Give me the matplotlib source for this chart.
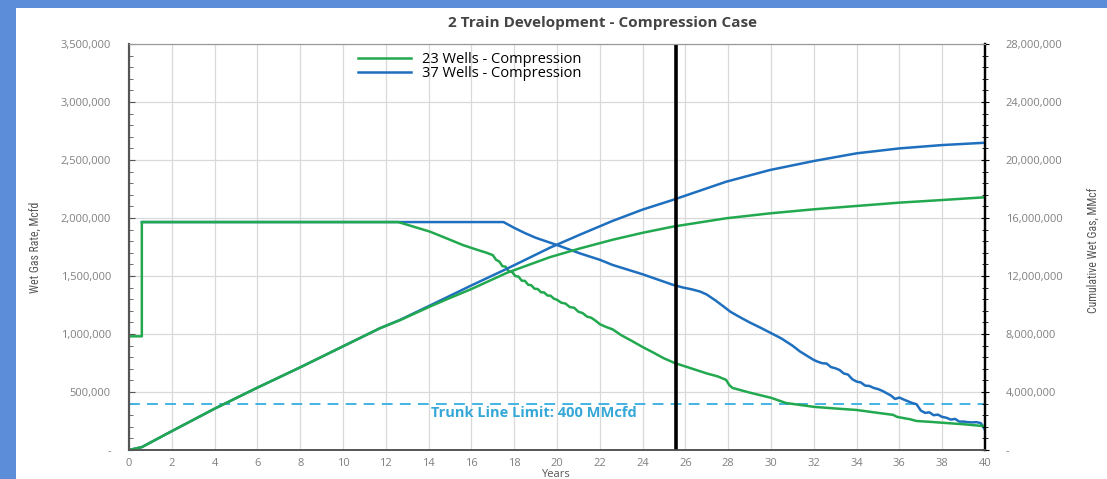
"""2 Train Development - Compression Case: rate + cumulative, 23 vs 37 wells."""
import matplotlib
matplotlib.use("Agg")
import matplotlib.pyplot as plt
from matplotlib.patches import Rectangle
from matplotlib.ticker import MultipleLocator, FuncFormatter

plt.rcParams['font.family'] = ['Open Sans', 'DejaVu Sans']

# ---- data (years, Mcfd / MMcf) ----
yrs_rate_23 = [0, 0.6, 0.6, 12.58, 13.3, 14.07, 14.9, 15.6, 16.2, 16.7, 17.0,
               17.15, 17.3, 17.45, 17.6, 17.75, 17.9, 18.05, 18.2, 18.35, 18.5,
               18.65, 18.8, 18.95, 19.1, 19.25, 19.4, 19.55, 19.7, 19.85, 20.0,
               20.2, 20.4, 20.6, 20.8, 21.0, 21.2, 21.4, 21.6, 21.8, 22.0,
               22.3, 22.6, 23.0, 23.5, 24.0, 24.5, 25.0, 25.5, 26.0, 26.5,
               27.0, 27.5, 27.9, 28.05, 28.2, 29.0, 30.0, 30.7, 31.5, 32.0,
               33.0, 34.0, 35.0, 35.7, 35.9, 36.5, 36.8, 37.5, 38.0, 39.0, 40.0]
rate_23 = [980, 980, 1965, 1965, 1925, 1882, 1820, 1767, 1730, 1701, 1680,
           1640, 1625, 1585, 1580, 1540, 1535, 1500, 1495, 1460, 1458,
           1425, 1420, 1390, 1388, 1360, 1358, 1332, 1330, 1305, 1295,
           1270, 1262, 1232, 1226, 1192, 1180, 1150, 1140, 1115, 1085,
           1060, 1040, 990, 940, 888, 840, 790, 750, 720, 690,
           660, 635, 605, 560, 535, 495, 450, 405, 385, 372,
           358, 345, 320, 303, 285, 265, 250, 242, 235, 222, 205]

yrs_rate_37 = [0.6, 17.5, 18.0, 18.5, 19.0, 20.0, 21.07, 22.0, 22.6, 23.3, 24.0,
               24.7, 25.4, 25.9, 26.3, 26.7, 27.0, 27.4, 27.8, 28.1, 28.5,
               29.0, 29.5, 30.0, 30.5, 31.0, 31.35, 31.7, 32.0,
               32.2, 32.4, 32.6, 32.8, 33.0, 33.2, 33.4, 33.6, 33.8, 34.0,
               34.2, 34.4, 34.6, 34.8, 35.0, 35.2, 35.4, 35.6, 35.8, 36.0,
               36.2, 36.4, 36.6, 36.8, 37.0, 37.2, 37.4, 37.6, 37.8, 38.0,
               38.2, 38.4, 38.6, 38.8, 39.0, 39.2, 39.4, 39.6, 39.8, 39.9, 40.0]
rate_37 = [1965, 1965, 1915, 1870, 1830, 1767, 1695, 1640, 1595, 1555, 1515,
           1470, 1425, 1400, 1385, 1365, 1340, 1290, 1235, 1192, 1150,
           1100, 1055, 1008, 960, 900, 850, 810, 776,
           760, 748, 745, 715, 705, 690, 660, 650, 610, 590,
           582, 555, 552, 535, 525, 510, 490, 470, 440, 452,
           435, 420, 405, 395, 340, 320, 325, 300, 305, 285,
           278, 262, 268, 245, 245, 240, 238, 240, 232, 205, 172]

yrs_cum_23 = [0, 0.6, 2, 4, 6, 8, 10, 11.73, 12.66, 14, 14.86, 16, 17.66,
              19.67, 21.07, 22.6, 24, 25.4, 27.9, 29.95, 32, 34, 36, 38, 40]
cum_23 = [0, 0.2, 1.3, 2.85, 4.3, 5.7, 7.15, 8.4, 8.95, 9.85, 10.4, 11.1, 12.22,
          13.3, 13.9, 14.5, 14.98, 15.4, 15.98, 16.32, 16.6, 16.83, 17.06, 17.24, 17.43]

yrs_cum_37 = [0, 0.6, 2, 4, 6, 8, 10, 11.73, 12.66, 14, 16, 17.66,
              19.67, 21.07, 22.6, 24, 25.4, 27.9, 29.95, 32, 34, 36, 38, 40]
cum_37 = [0, 0.2, 1.3, 2.85, 4.3, 5.7, 7.15, 8.4, 8.97, 9.92, 11.35, 12.5,
          13.95, 14.85, 15.8, 16.58, 17.24, 18.5, 19.31, 19.93, 20.46, 20.8, 21.03, 21.19]

trunk_limit = 400000
decision_year = 25.55

GREEN = '#22a94f'
BLUE = '#1f6fbf'
GRAY = '#808080'

fig = plt.figure(figsize=(11.07, 4.79), dpi=100)
fig.patch.set_facecolor('#5b8dd9')
fig.add_artist(Rectangle((16 / 1107, 0), 1, (479 - 8) / 479, transform=fig.transFigure,
                         facecolor='white', edgecolor='none', zorder=-10))

ax = fig.add_axes([129 / 1107, 29 / 479, (985 - 129) / 1107, (450 - 44) / 479])
ax2 = ax.twinx()

# rates (left axis)
ax.plot(yrs_rate_37, [v * 1000 for v in rate_37], color=BLUE, lw=1.8, zorder=3,
        label='37 Wells - Compression')
ax.plot(yrs_rate_23, [v * 1000 for v in rate_23], color=GREEN, lw=1.8, zorder=4,
        label='23 Wells - Compression')
ax.axhline(trunk_limit, color='#35aee0', lw=1.3, ls=(0, (6, 4)), zorder=2)
ax.text(18.9, trunk_limit - 22000, 'Trunk Line Limit: 400 MMcfd', color='#35a8d8',
        fontsize=10.5, fontweight='bold', ha='center', va='top')

# cumulative (right axis)
ax2.plot(yrs_cum_37, [v * 1e6 for v in cum_37], color=BLUE, lw=1.8)
ax2.plot(yrs_cum_23, [v * 1e6 for v in cum_23], color=GREEN, lw=1.8)
ax2.axvline(decision_year, color='black', lw=2.6)

ax.set_xlim(0, 40)
ax.set_ylim(0, 3500000)
ax2.set_ylim(0, 28000000)

ax.xaxis.set_major_locator(MultipleLocator(2))
ax.yaxis.set_major_locator(MultipleLocator(500000))
ax.yaxis.set_minor_locator(MultipleLocator(100000))
ax2.yaxis.set_major_locator(MultipleLocator(4000000))
ax2.yaxis.set_minor_locator(MultipleLocator(800000))

fmt = FuncFormatter(lambda v, p: '-' if v == 0 else f'{v:,.0f}')
ax.yaxis.set_major_formatter(fmt)
ax2.yaxis.set_major_formatter(fmt)

ax.grid(True, which='major', color='#d9d9d9', lw=0.9)
ax.set_axisbelow(True)

ax.tick_params(axis='x', length=0, labelsize=8, labelcolor=GRAY, pad=6)
ax.tick_params(axis='y', which='both', direction='in', color='#555555', labelsize=8,
               labelcolor=GRAY, pad=13)
ax.tick_params(axis='y', which='major', length=4)
ax.tick_params(axis='y', which='minor', length=3)
ax2.tick_params(axis='y', which='both', direction='inout', color='black', labelsize=8,
                labelcolor=GRAY, pad=12)
ax2.tick_params(axis='y', which='major', length=6)
ax2.tick_params(axis='y', which='minor', length=5)

for a in (ax, ax2):
    a.spines['top'].set_color('#999999')
    a.spines['left'].set_color('#555555')
    a.spines['bottom'].set_color('#555555')
    a.spines['right'].set_color('black')
    a.spines['left'].set_linewidth(1.5)
    a.spines['right'].set_linewidth(1.6)
    a.spines['bottom'].set_linewidth(1.2)

label_font = ['Roboto Condensed', 'DejaVu Sans']
fig.text(35 / 1107, 1 - 247 / 479, 'Wet Gas Rate, Mcfd', rotation=90, ha='center', va='center',
         fontsize=8.5, color='#555555', family=label_font, fontstretch='condensed')
fig.text(1093 / 1107, 1 - 250 / 479, 'Cumulative Wet Gas, MMcf', rotation=90, ha='center',
         va='center', fontsize=8.5, color='#555555', family=label_font, fontstretch='condensed')
fig.text(555 / 1107, 1 - 469 / 479, 'Years', ha='center', va='top', fontsize=8, color='#555555')

fig.text(602 / 1107, 1 - 23 / 479, '2 Train Development - Compression Case', ha='center',
         va='center', fontsize=11, fontweight='bold', color='#444444')

h, l = ax.get_legend_handles_labels()
ax2.legend(h[::-1], l[::-1], loc='upper left', bbox_to_anchor=(351 / 1107, 1 - 45 / 479),
           bbox_transform=fig.transFigure, frameon=False, fontsize=10.5, handlelength=3.6,
           labelspacing=-0.1, borderpad=0, handletextpad=0.8)

plt.savefig('out.png', dpi=100)
